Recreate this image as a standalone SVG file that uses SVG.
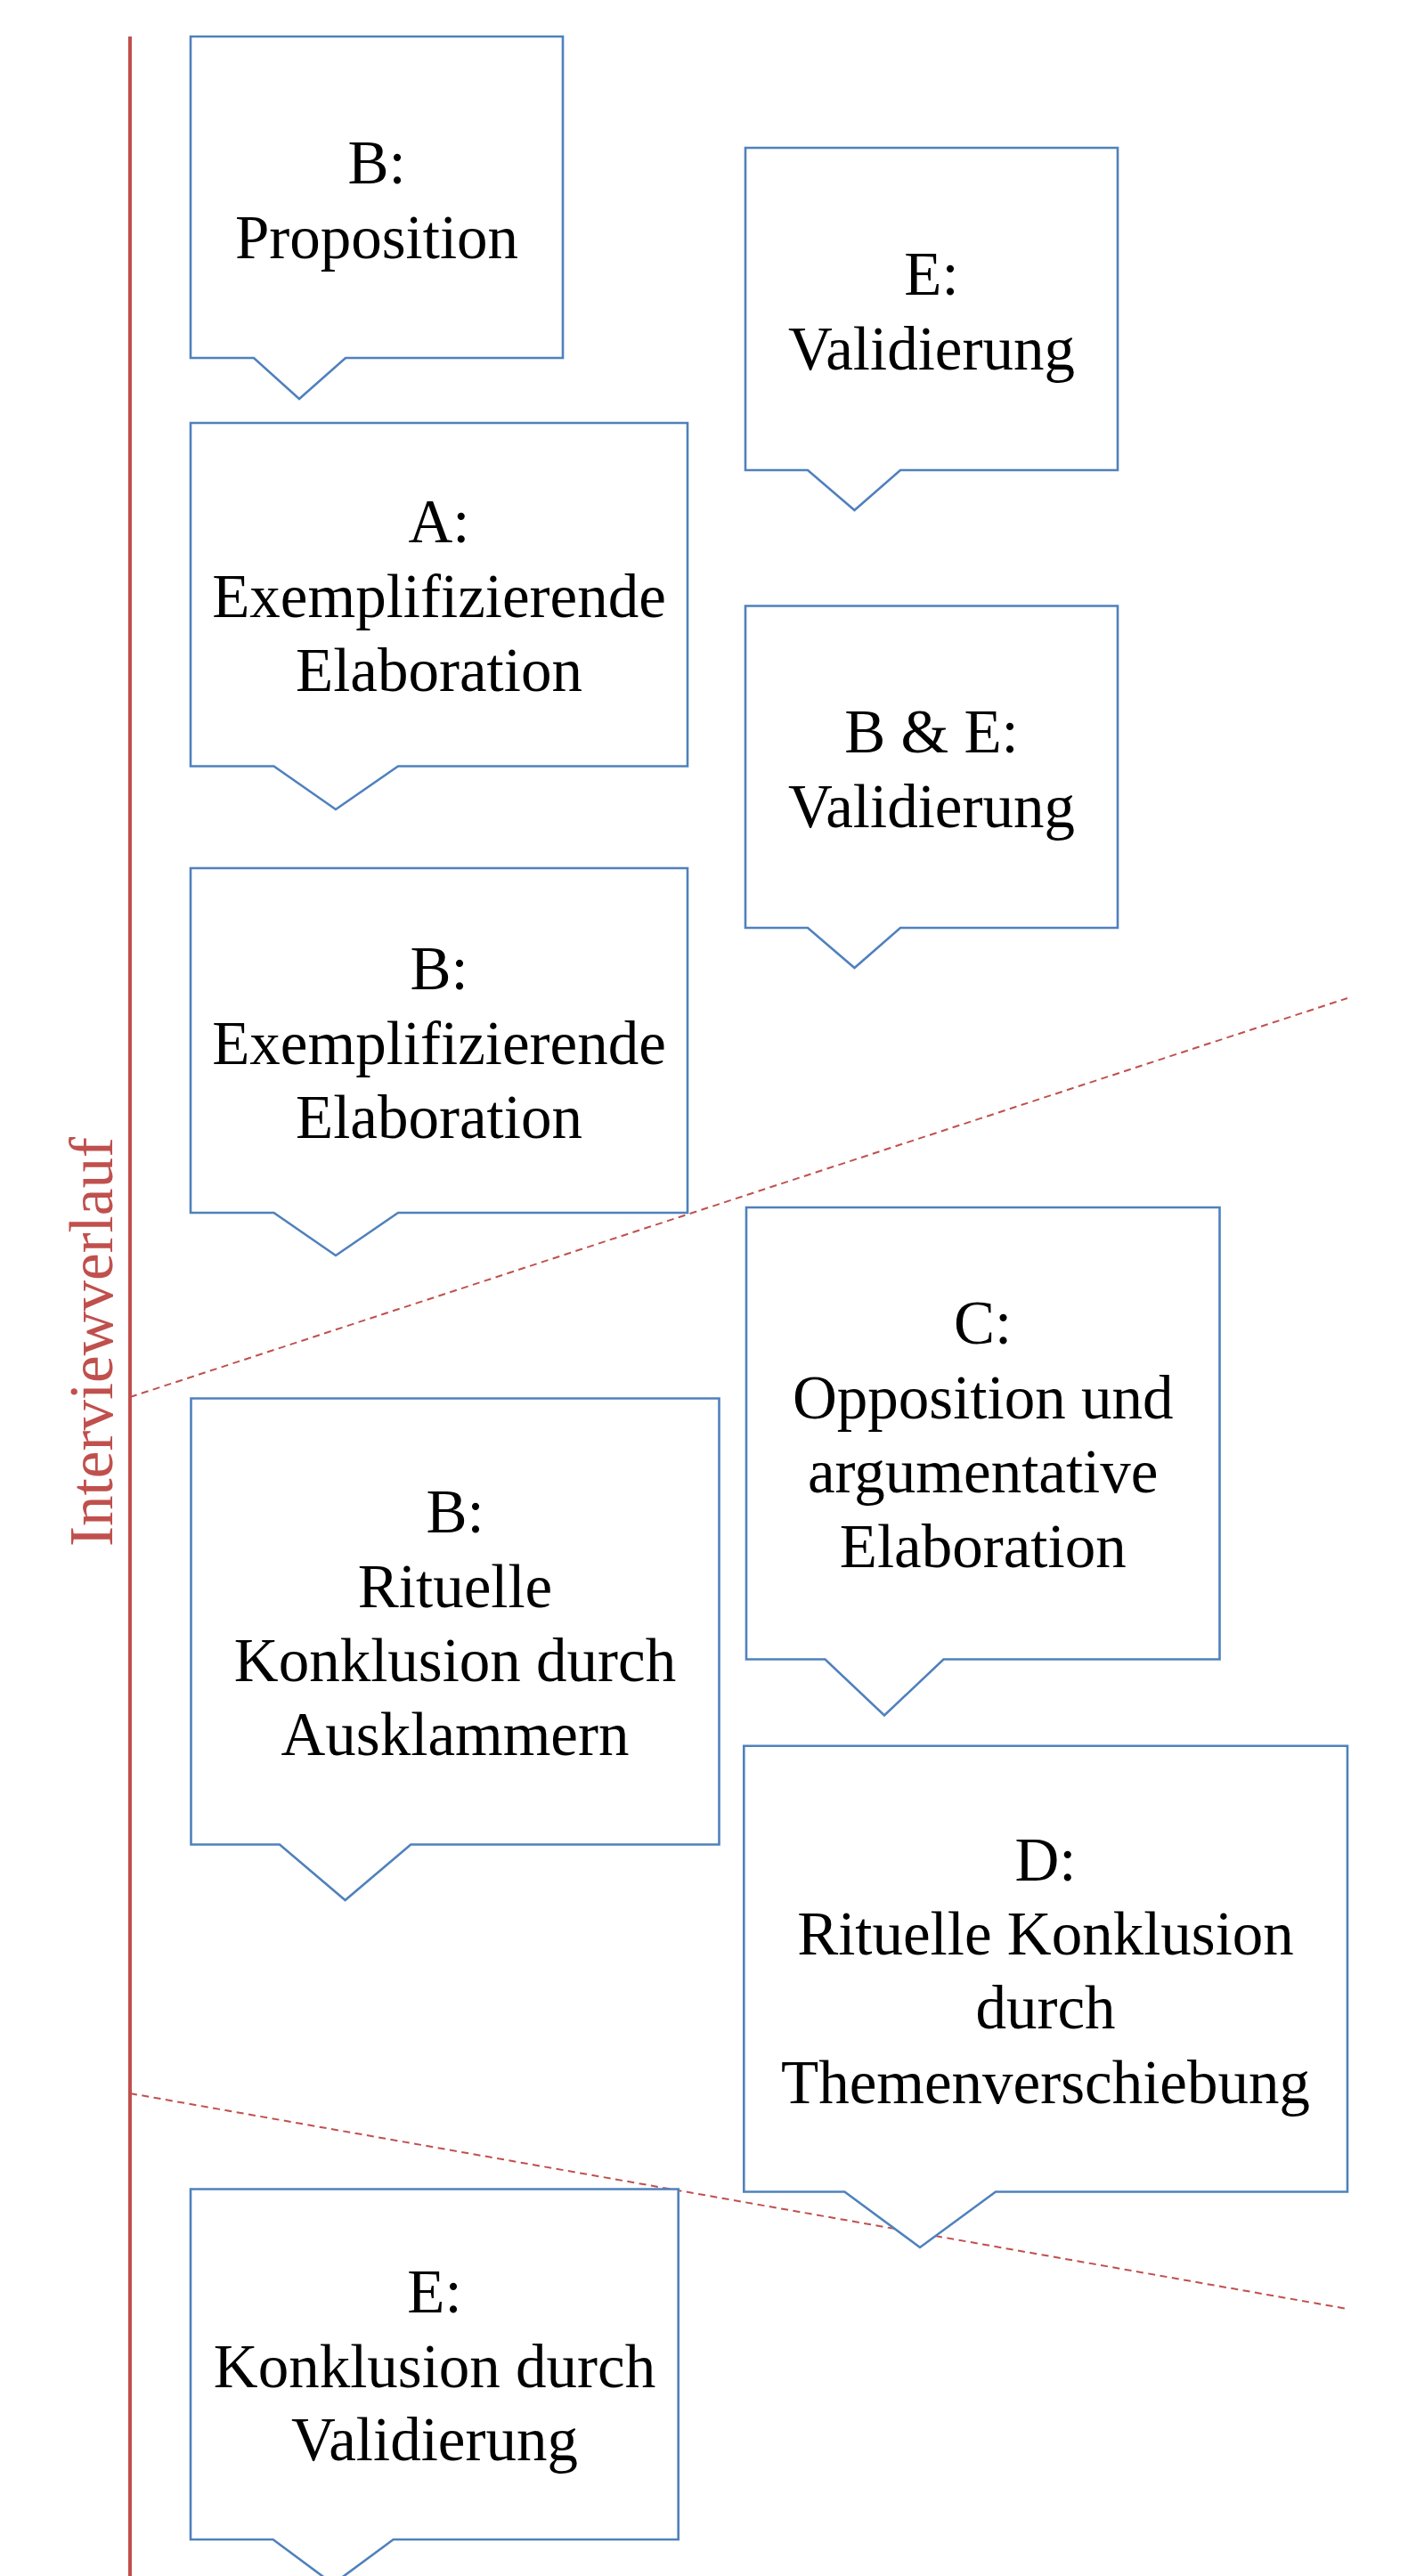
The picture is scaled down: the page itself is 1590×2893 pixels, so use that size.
<svg xmlns="http://www.w3.org/2000/svg" width="1590" height="2893" viewBox="0 0 1590 2893">
<style>
.box{fill:#ffffff;stroke:#4F81BD;stroke-width:2.6}
.t{font-family:"Liberation Serif","Times New Roman",serif;font-size:69px;fill:#000000;text-anchor:middle}
.axis{stroke:#C0504D;stroke-width:4;fill:none}
.sep{stroke:#C0504D;stroke-width:2;stroke-dasharray:8 5.5;fill:none}
.lbl{font-family:"Liberation Serif","Times New Roman",serif;font-size:69px;fill:#C0504D;text-anchor:middle}
</style>
<rect width="1590" height="2893" fill="#ffffff"/>
<g id="connectors">
<line class="axis" x1="146" y1="41" x2="146" y2="2893"/>
<line class="sep" x1="146" y1="1569" x2="1513" y2="1121"/>
<line class="sep" x1="146" y1="2351" x2="1513" y2="2593"/>
</g>
<g id="axis-label">
<text class="lbl" transform="translate(125.5,1507) rotate(-90)" x="0" y="0">Interviewverlauf</text>
</g>
<g id="node-b-proposition">
<path class="box" d="M214,41 H632 V402 H388 L336,448 L285,402 H214 Z"/>
<text class="t" x="423" y="206">B:</text>
<text class="t" x="423" y="290">Proposition</text>
</g>
<g id="node-e-validierung">
<path class="box" d="M837,166 H1255 V528 H1011 L959.5,573 L907,528 H837 Z"/>
<text class="t" x="1046" y="331">E:</text>
<text class="t" x="1046" y="415">Validierung</text>
</g>
<g id="node-a-elaboration">
<path class="box" d="M214,475 H772 V860.5 H447 L377,909 L307.5,860.5 H214 Z"/>
<text class="t" x="493" y="609">A:</text>
<text class="t" x="493" y="692.5">Exemplifizierende</text>
<text class="t" x="493" y="775.5">Elaboration</text>
</g>
<g id="node-be-validierung">
<path class="box" d="M837,680.5 H1255 V1042 H1011 L959.5,1087 L907,1042 H837 Z"/>
<text class="t" x="1046" y="845">B &amp; E:</text>
<text class="t" x="1046" y="929">Validierung</text>
</g>
<g id="node-b-elaboration">
<path class="box" d="M214,975 H772 V1362 H447 L377,1410 L307.5,1362 H214 Z"/>
<text class="t" x="493" y="1111">B:</text>
<text class="t" x="493" y="1195">Exemplifizierende</text>
<text class="t" x="493" y="1278">Elaboration</text>
</g>
<g id="node-c-opposition">
<path class="box" d="M838,1356 H1369.5 V1863.5 H1059.5 L993,1926.5 L926.5,1863.5 H838 Z"/>
<text class="t" x="1103.7" y="1509">C:</text>
<text class="t" x="1103.7" y="1592.5">Opposition und</text>
<text class="t" x="1103.7" y="1676">argumentative</text>
<text class="t" x="1103.7" y="1760">Elaboration</text>
</g>
<g id="node-b-rituelle">
<path class="box" d="M214.5,1570.5 H807.5 V2071.5 H461.3 L387.6,2134 L314,2071.5 H214.5 Z"/>
<text class="t" x="511" y="1721">B:</text>
<text class="t" x="511" y="1804.5">Rituelle</text>
<text class="t" x="511" y="1888">Konklusion durch</text>
<text class="t" x="511" y="1971">Ausklammern</text>
</g>
<g id="node-d-rituelle">
<path class="box" d="M835.3,1960.7 H1513 V2461.5 H1118 L1033,2524 L948.4,2461.5 H835.3 Z"/>
<text class="t" x="1174" y="2111.5">D:</text>
<text class="t" x="1174" y="2194.5">Rituelle Konklusion</text>
<text class="t" x="1174" y="2278">durch</text>
<text class="t" x="1174" y="2361.5">Themenverschiebung</text>
</g>
<g id="node-e-konklusion">
<path class="box" d="M214,2458.5 H761.7 V2852 H441.7 L374,2902 L306.6,2852 H214 Z"/>
<text class="t" x="488" y="2597">E:</text>
<text class="t" x="488" y="2680.5">Konklusion durch</text>
<text class="t" x="488" y="2763">Validierung</text>
</g>
</svg>
